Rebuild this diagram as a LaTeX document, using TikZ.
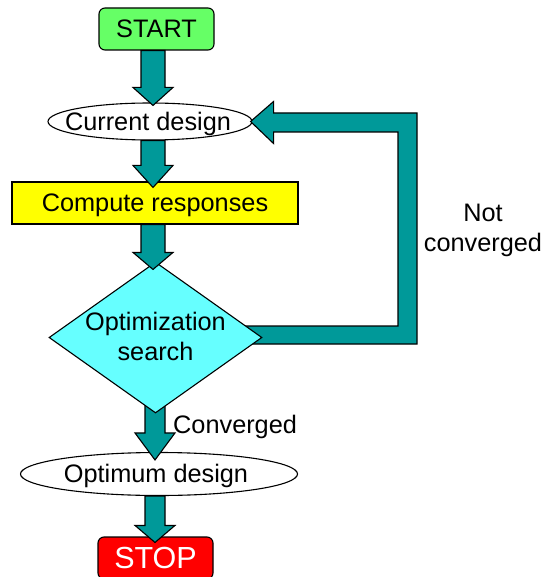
\documentclass[tikz,border=0pt]{standalone}
\usepackage{fontspec}
\setmainfont{Liberation Sans}
\usetikzlibrary{shapes.geometric,calc}
\definecolor{arrteal}{HTML}{009999}
\definecolor{startgreen}{HTML}{66FF66}
\definecolor{diacyan}{HTML}{66FFFF}
\definecolor{boxyellow}{HTML}{FFFF00}
\definecolor{stopred}{HTML}{FF0000}
% #1 from, #2 to, #3 x (pt), #4 head length, #5 overshoot
\newcommand\vblock[5]{%
  \filldraw[arr] let \p1=(#1), \p2=(#2) in
    (#3pt-12pt,\y1) -- (#3pt+12pt,\y1) -- (#3pt+12pt,\y2-#5pt+#4pt)
    -- (#3pt+20pt,\y2-#5pt+#4pt) -- (#3pt,\y2-#5pt) -- (#3pt-20pt,\y2-#5pt+#4pt)
    -- (#3pt-12pt,\y2-#5pt+#4pt) -- cycle;}
\begin{document}
\begin{tikzpicture}[x=1pt,y=-1pt,
  every node/.style={font=\fontsize{25.3}{30}\selectfont},
  ol/.style={draw=black,line width=1.1pt},
  arr/.style={ol,fill=arrteal,line join=miter},
  txt/.style={text height=18.2pt,text depth=0.6pt},
  termbox/.style={ol,txt,rounded corners=6pt,minimum width=115pt,minimum height=42pt,inner sep=0pt},
  ellbox/.style={ol,ellipse,fill=white,inner sep=0pt},
  procbox/.style={ol,txt,rectangle,fill=boxyellow,minimum width=286pt,minimum height=42pt,inner sep=0pt},
  diabox/.style={ol,diamond,fill=diacyan,minimum width=213pt,minimum height=151pt,inner sep=0pt},
  lbl/.style={inner sep=0pt,align=center}]
\useasboundingbox (0,0) rectangle (545,577);
\fill[white] (0,0) rectangle (545,577);
% nodes
\node[termbox,fill=startgreen] (start) at (156.5,29) {START};
\node[ellbox,minimum width=204pt,minimum height=37pt] (cur) at (150,121.5) {};
\node[lbl,txt] (curtext) at (148,121.5) {Current design};
\node[procbox] (comp) at (155,203) {Compute responses};
\coordinate (optc) at (155.5,337.5);
\node[ellbox,minimum width=277pt,minimum height=43pt] (optd) at (159,474) {};
\node[lbl,txt] (optdtext) at (156,474) {Optimum design};
% arrows
\vblock{start.south}{cur.north}{153}{18}{3}
\vblock{cur.south}{comp.north}{153}{22}{6}
% feedback loop (Not converged)
\filldraw[arr] let \p1=(optc), \p2=(cur.east) in
  (\x1,-344pt) -- (417pt,-344pt) -- (417pt,-113pt) -- (\x2+21pt,-113pt)
  -- (\x2+21pt,\y2+20pt) -- (\x2-2pt,\y2) -- (\x2+21pt,\y2-22pt)
  -- (\x2+21pt,-132pt) -- (398pt,-132pt) -- (398pt,-326pt) -- (\x1,-326pt) -- cycle;
% converged arrow
\filldraw[arr] let \p1=(optc), \p2=(optd.north) in
    (155pt-10pt,\y1) -- (155pt+10pt,\y1) -- (155pt+10pt,\y2-8pt+27pt)
    -- (155pt+20pt,\y2-8pt+27pt) -- (155pt,\y2-8pt) -- (155pt-20pt,\y2-8pt+27pt)
    -- (155pt-10pt,\y2-8pt+27pt) -- cycle;
% decision
\node[diabox] (opt) at (optc) {};
\node[lbl] (opttext) at (155.5,336.5) {Optimization\\search};
\vblock{comp.south}{opt.north}{153}{17}{8}
% stop
\node[termbox,fill=stopred,text=white,minimum height=42pt,
      font=\fontsize{30.5}{34}\selectfont,text height=21.8pt,text depth=0.7pt] (stop) at (155.5,558) {STOP};
\filldraw[arr] let \p1=(optd.south), \p2=(stop.north) in
    (155pt-10pt,\y1) -- (155pt+10pt,\y1) -- (155pt+10pt,\y2-6pt+17pt)
    -- (155pt+20pt,\y2-6pt+17pt) -- (155pt,\y2-6pt) -- (155pt-20pt,\y2-6pt+17pt)
    -- (155pt-10pt,\y2-6pt+17pt) -- cycle;
% labels
\node[lbl,anchor=west] (conv) at (173,427) {Converged};
\node[lbl] (notconv) at (483,230) {Not\\converged};
\end{tikzpicture}
\end{document}
